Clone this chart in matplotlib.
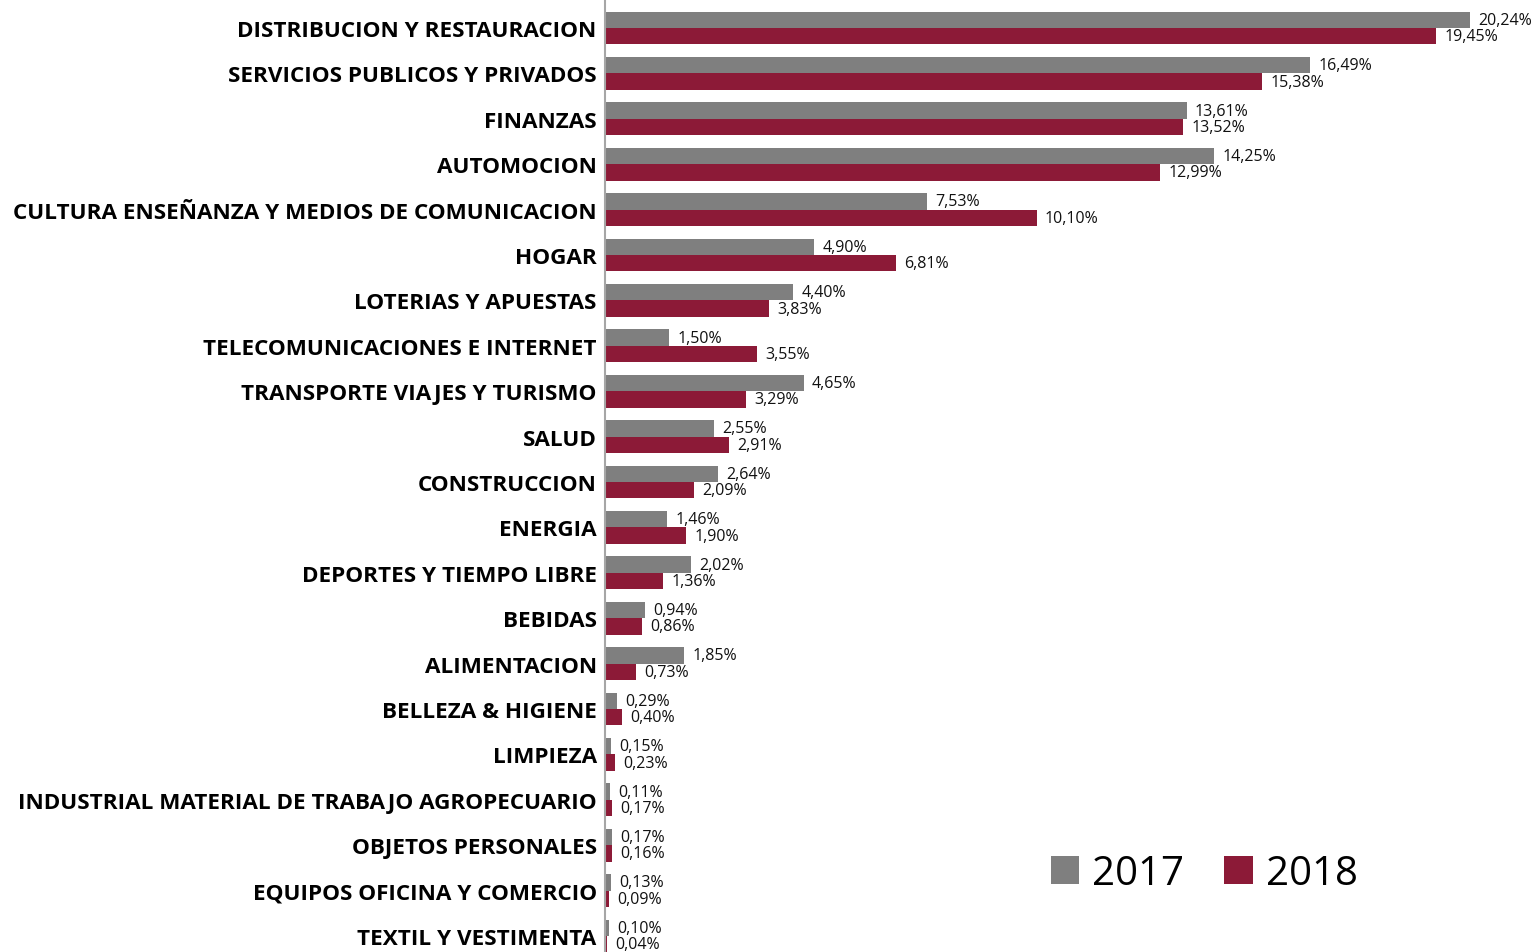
import matplotlib.pyplot as plt
import numpy as np

# sector share of spend, 2017 vs 2018 (%)
categories = [
    "DISTRIBUCION Y RESTAURACION",
    "SERVICIOS PUBLICOS Y PRIVADOS",
    "FINANZAS",
    "AUTOMOCION",
    "CULTURA ENSEÑANZA Y MEDIOS DE COMUNICACION",
    "HOGAR",
    "LOTERIAS Y APUESTAS",
    "TELECOMUNICACIONES E INTERNET",
    "TRANSPORTE VIAJES Y TURISMO",
    "SALUD",
    "CONSTRUCCION",
    "ENERGIA",
    "DEPORTES Y TIEMPO LIBRE",
    "BEBIDAS",
    "ALIMENTACION",
    "BELLEZA & HIGIENE",
    "LIMPIEZA",
    "INDUSTRIAL MATERIAL DE TRABAJO AGROPECUARIO",
    "OBJETOS PERSONALES",
    "EQUIPOS OFICINA Y COMERCIO",
    "TEXTIL Y VESTIMENTA",
]
vals_2017 = [20.24, 16.49, 13.61, 14.25, 7.53, 4.90, 4.40, 1.50, 4.65, 2.55,
             2.64, 1.46, 2.02, 0.94, 1.85, 0.29, 0.15, 0.11, 0.17, 0.13, 0.10]
vals_2018 = [19.45, 15.38, 13.52, 12.99, 10.10, 6.81, 3.83, 3.55, 3.29, 2.91,
             2.09, 1.90, 1.36, 0.86, 0.73, 0.40, 0.23, 0.17, 0.16, 0.09, 0.04]

gray = "#7f7f7f"
red = "#8c1a37"

plt.rcParams["font.family"] = ["Open Sans", "DejaVu Sans"]

fig = plt.figure(figsize=(15.4, 9.53), dpi=100)
ax = fig.add_axes([605 / 1540, 0, 935 / 1540, 1])

y = np.arange(len(categories))
h = 0.36
b1 = ax.barh(y - h / 2, vals_2017, height=h, color=gray, label="2017")
b2 = ax.barh(y + h / 2, vals_2018, height=h, color=red, label="2018")

def fmt(v):
    return f"{v:.2f}%".replace(".", ",")

for bars, vals in ((b1, vals_2017), (b2, vals_2018)):
    for rect, v in zip(bars, vals):
        ax.annotate(fmt(v), (rect.get_width(), rect.get_y() + rect.get_height() / 2),
                    xytext=(6, 0), textcoords="offset points",
                    ha="left", va="center", fontsize=11.5, color="#111111")

ax.set_xlim(0, 935 / 42.74)
ax.set_ylim(20 + 16 / 45.4, -29 / 45.4)

ax.set_yticks(y)
ax.set_yticklabels(categories, fontsize=16.2, fontweight="bold")
ax.tick_params(axis="y", length=0, pad=6)
ax.set_xticks([])

for s in ("top", "right", "bottom"):
    ax.spines[s].set_visible(False)
ax.spines["left"].set_color("#a6a6a6")
ax.spines["left"].set_linewidth(1.5)

fig.legend(handles=[b1, b2], loc="center", bbox_to_anchor=(0.782, 0.082),
           bbox_transform=fig.transFigure, ncol=2, frameon=False,
           fontsize=29, handlelength=0.7, handleheight=0.7,
           handletextpad=0.33, columnspacing=1.0)

fig.savefig("out.png", dpi=100)
